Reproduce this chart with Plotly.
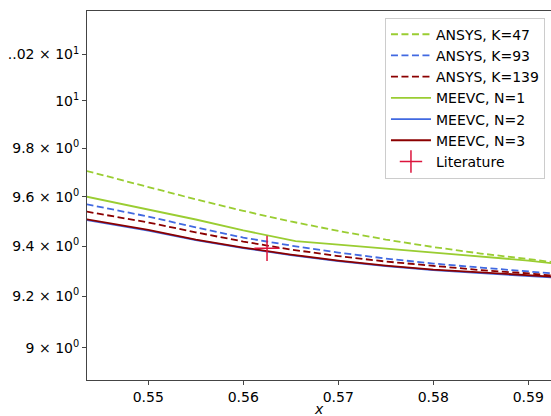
import plotly.graph_objects as go

x = [0.5435, 0.550, 0.555, 0.560, 0.565, 0.570, 0.575, 0.580, 0.585, 0.590, 0.5925]
x_n1 = [0.5435, 0.550, 0.555, 0.560, 0.565, 0.5655, 0.570, 0.575, 0.580, 0.585, 0.590, 0.5925]

ansys_k47 = [9.706, 9.640, 9.589, 9.542, 9.499, 9.461, 9.426, 9.396, 9.370, 9.348, 9.336]
ansys_k93 = [9.569, 9.519, 9.475, 9.434, 9.402, 9.374, 9.350, 9.330, 9.314, 9.298, 9.291]
ansys_k139 = [9.539, 9.495, 9.455, 9.418, 9.386, 9.360, 9.338, 9.320, 9.304, 9.291, 9.282]
meevc_n1 = [9.600, 9.548, 9.507, 9.463, 9.424, 9.420, 9.406, 9.390, 9.374, 9.358, 9.342, 9.331]
meevc_n2 = [9.505, 9.462, 9.424, 9.392, 9.364, 9.340, 9.320, 9.304, 9.292, 9.282, 9.275]
meevc_n3 = [9.508, 9.465, 9.426, 9.394, 9.366, 9.342, 9.322, 9.306, 9.295, 9.285, 9.278]

lit_x = [0.5625]
lit_y = [9.391]

ytick_vals = [9.0, 9.2, 9.4, 9.6, 9.8, 10.0, 10.2]
ytick_text = ["9 × 10<sup>0</sup>", "9.2 × 10<sup>0</sup>", "9.4 × 10<sup>0</sup>",
              "9.6 × 10<sup>0</sup>", "9.8 × 10<sup>0</sup>", "10<sup>1</sup>",
              "..02 × 10<sup>1</sup>"]
xtick_vals = [0.55, 0.56, 0.57, 0.58, 0.59]
xtick_text = ["0.55", "0.56", "0.57", "0.58", "0.59"]

GREEN = "#9acd32"
BLUE = "#4169e1"
RED = "#8b0000"
CRIMSON = "#dc143c"
DASH = "7px,3.5px"
LW = 1.8

fig = go.Figure()
fig.add_trace(go.Scatter(x=x, y=ansys_k47, mode="lines", name="ANSYS, K=47",
                         line=dict(color=GREEN, width=LW, dash=DASH)))
fig.add_trace(go.Scatter(x=x, y=ansys_k93, mode="lines", name="ANSYS, K=93",
                         line=dict(color=BLUE, width=LW, dash=DASH)))
fig.add_trace(go.Scatter(x=x, y=ansys_k139, mode="lines", name="ANSYS, K=139",
                         line=dict(color=RED, width=LW, dash=DASH)))
fig.add_trace(go.Scatter(x=x_n1, y=meevc_n1, mode="lines", name="MEEVC, N=1",
                         line=dict(color=GREEN, width=LW)))
fig.add_trace(go.Scatter(x=x, y=meevc_n2, mode="lines", name="MEEVC, N=2",
                         line=dict(color=BLUE, width=LW)))
fig.add_trace(go.Scatter(x=x, y=meevc_n3, mode="lines", name="MEEVC, N=3",
                         line=dict(color=RED, width=LW)))
fig.add_trace(go.Scatter(x=lit_x, y=lit_y, mode="markers", name="Literature",
                         marker=dict(symbol="cross-thin", size=18, color=CRIMSON,
                                     line=dict(color=CRIMSON, width=1.5))))

font = dict(family="DejaVu Sans", size=14, color="#000000")

fig.update_layout(
    width=551, height=416,
    margin=dict(l=87, r=0, t=11, b=36),
    paper_bgcolor="white", plot_bgcolor="white",
    font=font,
    showlegend=True,
    legend=dict(x=0.987, y=0.982, xanchor="right", yanchor="top",
                bgcolor="rgba(255,255,255,0.8)", bordercolor="#cccccc", borderwidth=1,
                font=font, itemwidth=40),
    xaxis=dict(range=[0.54355, 0.59239], tickvals=xtick_vals, ticktext=xtick_text,
               showgrid=False, zeroline=False, showline=True, linecolor="#444444",
               linewidth=1, mirror=True, ticks="outside", ticklen=4, tickcolor="#444444"),
    yaxis=dict(type="log", range=[0.94831, 1.01667], tickvals=ytick_vals, ticktext=ytick_text,
               showgrid=False, zeroline=False, showline=True, linecolor="#444444",
               linewidth=1, mirror=False, ticks="outside", ticklen=4, tickcolor="#444444"),
    annotations=[dict(text="<i>x</i>", xref="paper", yref="paper", x=0.5, y=-0.079,
                      xanchor="center", yanchor="middle", showarrow=False, font=font)],
)

fig.write_html("out.html")
